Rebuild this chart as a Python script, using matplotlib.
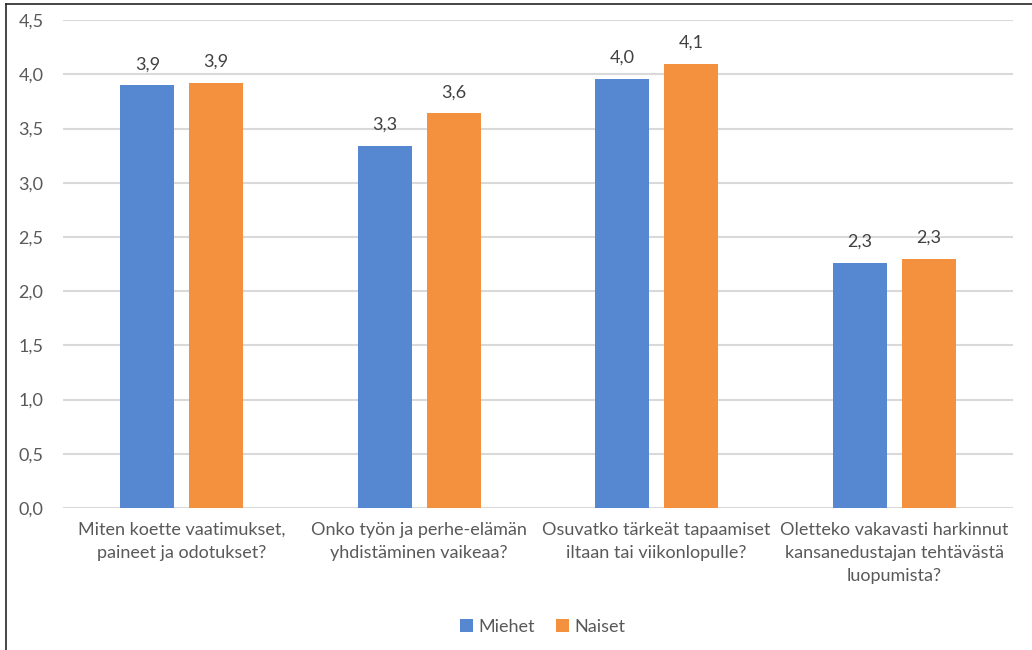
import matplotlib
matplotlib.use("Agg")
import matplotlib.pyplot as plt
import numpy as np
from matplotlib.lines import Line2D

plt.rcParams['font.family'] = ['Lato', 'DejaVu Sans']

# data
kysymykset = ["Miten koette vaatimukset,\npaineet ja odotukset?",
              "Onko työn ja perhe-elämän\nyhdistäminen vaikeaa?",
              "Osuvatko tärkeät tapaamiset\niltaan tai viikonlopulle?",
              "Oletteko vakavasti harkinnut\nkansanedustajan tehtävästä\nluopumista?"]
miehet = [3.90, 3.34, 3.96, 2.26]
naiset = [3.92, 3.64, 4.10, 2.30]
y_ticks = [0.0, 0.5, 1.0, 1.5, 2.0, 2.5, 3.0, 3.5, 4.0, 4.5]

sininen = "#5588D0"
oranssi = "#F4913E"
harmaa = "#595959"

fig = plt.figure(figsize=(10.32, 6.5), dpi=100)
ax = fig.add_axes([0.061, 0.2185, 0.9205, 0.7505])

x = np.arange(len(kysymykset))
w = 0.227
off = 0.145
b1 = ax.bar(x - off, miehet, w, color=sininen, label="Miehet", zorder=3)
b2 = ax.bar(x + off, naiset, w, color=oranssi, label="Naiset", zorder=3)

for bars, vals in ((b1, miehet), (b2, naiset)):
    for b, v in zip(bars, vals):
        ax.text(b.get_x() + b.get_width() / 2, v + 0.12, f"{v:.1f}".replace(".", ","),
                ha="center", va="bottom", fontsize=13, color="#404040")

ax.set_xlim(-0.5, 3.5)
ax.set_ylim(0, 4.5)
ax.set_yticks(y_ticks)
ax.set_yticklabels([f"{t:.1f}".replace(".", ",") for t in y_ticks])
ax.set_xticks(x)
ax.set_xticklabels(kysymykset, linespacing=1.55)
ax.tick_params(axis="both", length=0, labelsize=13, colors=harmaa, pad=10)
ax.tick_params(axis="y", pad=14)
ax.grid(axis="y", color="#D9D9D9", linewidth=1.5, zorder=0)
for s in ax.spines.values():
    s.set_visible(False)

ax.legend(loc="center", bbox_to_anchor=(0.505, -0.244), ncol=2, frameon=False,
          fontsize=13, labelcolor=harmaa, handlelength=0.7, handleheight=0.7,
          columnspacing=1.2, handletextpad=0.3)

# border
fig.add_artist(Line2D([6 / 1032, 1], [1 - 4 / 650, 1 - 4 / 650], color="#262626", lw=1.2))
fig.add_artist(Line2D([6 / 1032, 6 / 1032], [0, 1 - 4 / 650], color="#262626", lw=1.2))

fig.savefig("out.png", dpi=100)
